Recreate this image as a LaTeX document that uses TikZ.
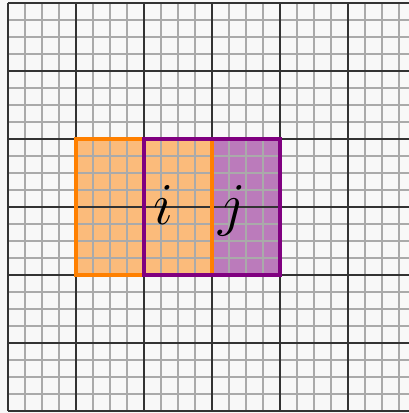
\documentclass[tikz,border=0pt]{standalone}
\definecolor{bgc}{HTML}{F8F8F8}
\definecolor{minorc}{HTML}{AAAAAA}
\definecolor{majorc}{HTML}{333333}
\definecolor{orng}{RGB}{255,128,0}
\definecolor{prpl}{RGB}{128,0,128}
\tikzset{
  minorgrid/.style={draw=minorc, line width=0.6pt},
  majorgrid/.style={draw=majorc, line width=1pt},
  orangebox/.style={draw=orng, line width=1.4pt},
  purplebox/.style={draw=prpl, line width=1.4pt},
  lbl/.style={font=\Huge, anchor=base, inner sep=0pt}
}
\begin{document}
\begin{tikzpicture}
\useasboundingbox (-0.1176,-0.0294) rectangle (5.897,6.044);
\fill[bgc] (-0.1176,-0.0294) rectangle (5.897,6.044);
\fill[orng, opacity=0.5] (1,2) rectangle (3,4);
\fill[prpl, opacity=0.5] (3,2) rectangle (4,4);
\draw[minorgrid] (0,0) grid[step=0.25] (6,6);
\draw[majorgrid] (0,0) grid[step=1] (6,6);
\draw[orangebox] (1,2) rectangle (3,4);
\draw[purplebox] (2,2) rectangle (4,4);
\node[lbl] (i) at (2.28,2.74) {$i$};
\node[lbl] (j) at (3.29,2.74) {$j$};
\end{tikzpicture}
\end{document}
